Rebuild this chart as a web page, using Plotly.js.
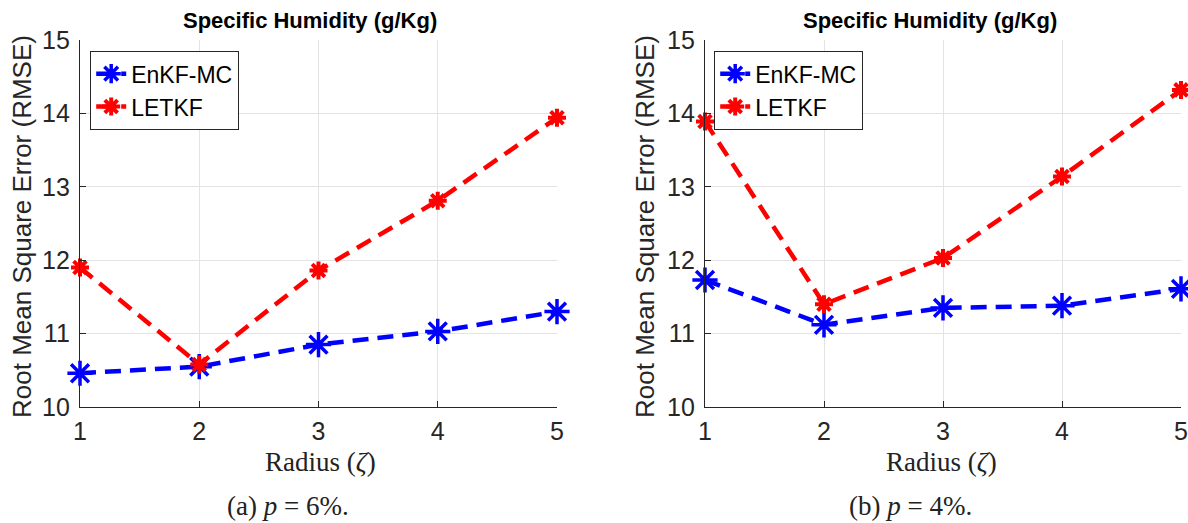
<!DOCTYPE html>
<html>
<head>
<meta charset="utf-8">
<script src="https://cdn.plot.ly/plotly-3.0.1.min.js"></script>
<style>html,body{margin:0;padding:0;background:#fff;}#chart{width:1188px;height:523px;}</style>
</head>
<body>
<div id="chart"></div>
<script>
// ---- data ----
const radius = [1, 2, 3, 4, 5];
const enkfA = [10.46, 10.55, 10.85, 11.03, 11.30];
const letkfA = [11.90, 10.58, 11.86, 12.81, 13.94];
const enkfB = [11.73, 11.12, 11.35, 11.38, 11.61];
const letkfB = [13.89, 11.40, 12.03, 13.14, 14.32];
const seriesNames = ["EnKF-MC", "LETKF"];
const yTicks = [10, 11, 12, 13, 14, 15];
const panelTitle = "Specific Humidity (g/Kg)";
const yTitle = "Root Mean Square Error (RMSE)";
const xTitle = "Radius (<i>ζ</i>)";
const captions = ["(a) <i>p</i>\u2005=\u20056%.", "(b) <i>p</i>\u2005=\u20054%."];

const W = 1188, H = 523;
const sans = "Liberation Sans, Arial, Helvetica, sans-serif";
const serif = "Liberation Serif, Times New Roman, serif";
const axCol = "#262626";

function blue(x, y, xa, ya, leg) {
  return {x: x, y: y, xaxis: xa, yaxis: ya, legend: leg, name: seriesNames[0],
    type: "scatter", mode: "lines+markers", cliponaxis: false,
    line: {color: "#0000ff", width: 4.5, dash: "16px,9px"},
    marker: {symbol: "asterisk-open", size: 21, color: "#0000ff", line: {color: "#0000ff", width: 3.5}}};
}
function red(x, y, xa, ya, leg) {
  return {x: x, y: y, xaxis: xa, yaxis: ya, legend: leg, name: seriesNames[1],
    type: "scatter", mode: "lines+markers", cliponaxis: false,
    line: {color: "#ff0000", width: 4.5, dash: "16px,9px"},
    marker: {symbol: "asterisk-open", size: 15, color: "#ff0000", line: {color: "#ff0000", width: 4}}};
}

const traces = [
  blue(radius, enkfA, "x", "y", "legend"),
  red(radius, letkfA, "x", "y", "legend"),
  blue(radius, enkfB, "x2", "y2", "legend2"),
  red(radius, letkfB, "x2", "y2", "legend2")
];

function xax(d0, d1, anchor) {
  return {domain: [d0 / W, d1 / W], anchor: anchor, range: [1, 5], tickvals: radius,
    showgrid: true, gridcolor: "#e3e3e3", gridwidth: 1, zeroline: false,
    showline: true, linecolor: axCol, linewidth: 1.2, ticks: "inside", ticklen: 6, tickcolor: axCol,
    tickfont: {family: sans, size: 25, color: axCol}, ticklabelstandoff: 2, fixedrange: true};
}
function yax(anchor) {
  return {domain: [1 - 407 / H, 1 - 40 / H], anchor: anchor, range: [10, 15], tickvals: yTicks,
    showgrid: true, gridcolor: "#e3e3e3", gridwidth: 1, zeroline: false,
    showline: true, linecolor: axCol, linewidth: 1.2, ticks: "inside", ticklen: 6, tickcolor: axCol,
    tickfont: {family: sans, size: 25, color: axCol}, ticklabelstandoff: 4, fixedrange: true};
}

function legendAt(px, py) {
  return {x: px / W, y: 1 - py / H, xanchor: "left", yanchor: "top", xref: "paper", yref: "paper",
    bgcolor: "#ffffff", bordercolor: axCol, borderwidth: 1.2,
    font: {family: sans, size: 23, color: "#000"}, itemwidth: 30, tracegroupgap: 0};
}

function ann(text, px, py, font, extra) {
  return Object.assign({text: text, x: px / W, y: 1 - py / H, xref: "paper", yref: "paper",
    showarrow: false, xanchor: "center", yanchor: "middle", font: font}, extra || {});
}

const titleFont = {family: sans, size: 22, color: "#000", weight: "bold"};
const yFont = {family: sans, size: 26, color: axCol};
const serifFont = {family: serif, size: 27, color: "#222"};

const layout = {
  width: W, height: H, margin: {l: 0, r: 0, t: 0, b: 0},
  paper_bgcolor: "#ffffff", plot_bgcolor: "#ffffff", showlegend: true,
  xaxis: xax(80, 557, "y"), yaxis: yax("x"),
  xaxis2: xax(705, 1181, "y2"), yaxis2: yax("x2"),
  legend: legendAt(90, 51), legend2: legendAt(714, 51),
  annotations: [
    ann("<b>" + panelTitle + "</b>", 310, 21, titleFont),
    ann("<b>" + panelTitle + "</b>", 930, 21, titleFont),
    ann(yTitle, 22, 227, yFont, {textangle: -90}),
    ann(yTitle, 645, 227, yFont, {textangle: -90}),
    ann(xTitle, 320, 462, serifFont),
    ann(xTitle, 941, 462, serifFont),
    ann(captions[0], 288, 506, serifFont),
    ann(captions[1], 910, 506, serifFont)
  ]
};

Plotly.newPlot("chart", traces, layout, {displayModeBar: false, staticPlot: true});
</script>
</body>
</html>
